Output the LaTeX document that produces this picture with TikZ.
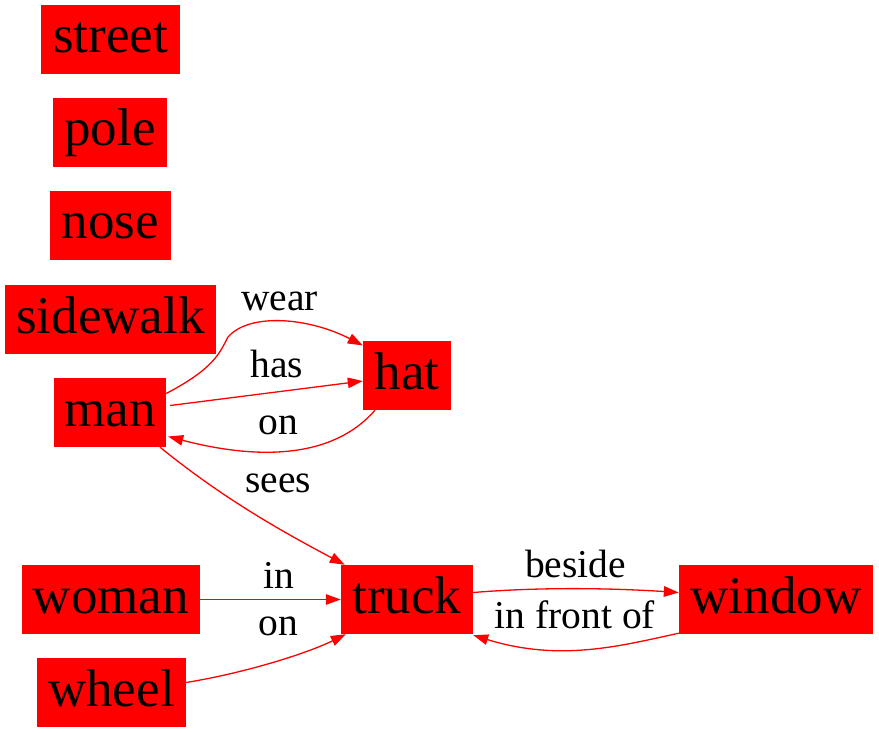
\documentclass[tikz,border=0pt]{standalone}
\usepackage{fontspec}
\setmainfont{Liberation Serif}
\usetikzlibrary{arrows.meta}
\tikzset{
  ent/.style={fill=red, draw=none, inner sep=0pt, minimum height=69pt, text height=40.5pt, text depth=13.5pt, font=\fontsize{53}{62}\selectfont},
  rel/.style={draw=red, line width=1.3pt, -{Triangle[length=15pt,width=10.5pt]}},
  lbl/.style={font=\fontsize{39.5}{46}\selectfont, inner sep=0pt, anchor=base}
}
\begin{document}
\begin{tikzpicture}[x=1pt,y=-1pt]
\useasboundingbox (0,0) rectangle (879,733);
\node[ent, minimum width=139pt] (street) at (110.5,39.5) {street};
\node[ent, minimum width=114pt] (pole) at (110,132.5) {pole};
\node[ent, minimum width=121pt] (nose) at (110.5,225.5) {nose};
\node[ent, minimum width=211pt] (sidewalk) at (110.5,319.5) {sidewalk};
\node[ent, minimum width=112pt] (man) at (110,412.5) {man};
\node[ent, minimum width=88pt] (hat) at (407,375.5) {hat};
\node[ent, minimum width=178pt] (woman) at (111,599.5) {woman};
\node[ent, minimum width=149pt] (wheel) at (111.5,692.5) {wheel};
\node[ent, minimum width=132pt] (truck) at (407,599.5) {truck};
\node[ent, minimum width=194pt] (window) at (776,599.5) {window};

\coordinate (wS) at ([yshift=19pt]man.east);
\coordinate (wE) at ([yshift=30pt]hat.west);
\draw[rel] (wS) .. controls (215,368) and (220,352) .. (228,337) .. controls (250,312) and (310,318) .. (wE);
\node[lbl] (lwear) at (279.5,310) {wear};

\draw[rel] ([yshift=7pt,xshift=4pt]man.east) -- ([yshift=-5.5pt]hat.west);
\node[lbl] (lhas) at (277,377) {has};

\draw[rel] ([xshift=-32pt]hat.south) .. controls (330,462) and (250,458) .. ([yshift=-24pt,xshift=2pt]man.east);
\node[lbl] (lon1) at (278.5,434) {on};

\draw[rel] ([xshift=50pt]man.south) .. controls (225,500) and (285,533) .. ([xshift=4pt]truck.north west);
\node[lbl] (lsees) at (278,492) {sees};

\draw[rel] (woman.east) -- (truck.west);
\node[lbl] (lin) at (278.5,588) {in};

\draw[rel] ([yshift=10pt]wheel.east) .. controls (250,672) and (310,652) .. ([xshift=5pt]truck.south west);
\node[lbl] (lon2) at (278,635) {on};

\draw[rel] ([yshift=7pt]truck.east) .. controls (540,587) and (610,588) .. ([yshift=7pt]window.west);
\node[lbl] (lbeside) at (575.5,577) {beside};

\draw[rel] ([yshift=1pt]window.south west) .. controls (620,646) and (560,662) .. ([yshift=-1pt]truck.south east);
\node[lbl] (lfront) at (575,628) {in front of};
\end{tikzpicture}
\end{document}
